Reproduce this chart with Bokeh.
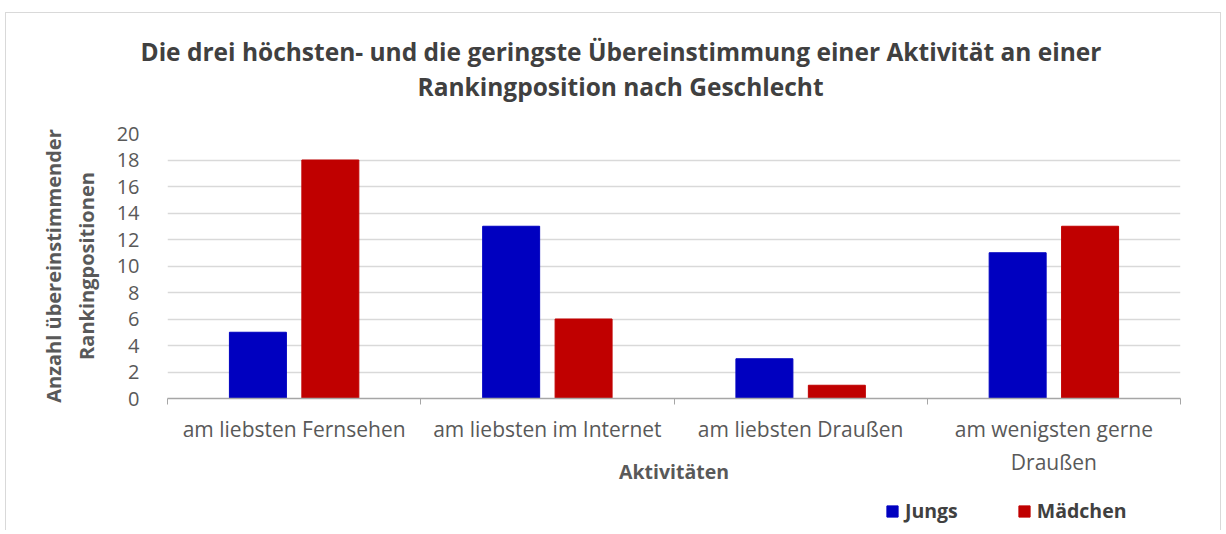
from bokeh.plotting import figure
from bokeh.layouts import column
from bokeh.models import ColumnDataSource, FixedTicker, Legend, LegendItem, Title, Range1d
from bokeh.transform import dodge
from bokeh.embed import file_html
from bokeh.resources import INLINE

categories = ["am liebsten Fernsehen", "am liebsten im Internet", "am liebsten Draußen", "am wenigsten gerne\nDraußen"]
jungs = [5, 13, 3, 11]
maedchen = [18, 6, 1, 13]
y_ticks = [0, 2, 4, 6, 8, 10, 12, 14, 16, 18, 20]
series_names = ["Jungs", "Mädchen"]
series_cols = ["jungs", "maedchen"]
series_colors = ["#0000C0", "#C00000"]

FONT = "Open Sans"
TXT = "#595959"
DARK = "#404040"
GRID = "#d9d9d9"

pos = [i + 0.5 for i in range(len(categories))]
src = ColumnDataSource(dict(x=pos, jungs=jungs, maedchen=maedchen))

p = figure(frame_width=1013, frame_height=265, output_backend="svg", toolbar_location=None,
           x_range=Range1d(0, len(categories)), y_range=Range1d(0, 20),
           min_border_left=167, min_border_right=42, min_border_top=133, min_border_bottom=100)
p.border_fill_color = None
p.outline_line_color = None
line = "linear-gradient(#d9d9d9,#d9d9d9)"
p.styles = {"background": f"{line} 5px 12px/1px 700px no-repeat, {line} 5px 12px/1216px 1px no-repeat, "
                          f"{line} 1220px 12px/1px 700px no-repeat, white"}

r1 = p.vbar(x=dodge("x", -0.143, range=p.x_range), top="jungs", width=0.225, source=src,
            fill_color=series_colors[0], line_color=series_colors[0])
r2 = p.vbar(x=dodge("x", 0.143, range=p.x_range), top="maedchen", width=0.225, source=src,
            fill_color=series_colors[1], line_color=series_colors[1])

# title (two lines)
t2 = Title(text="Rankingposition nach Geschlecht", align="left", offset=250, text_font=FONT,
           text_font_size="24.5px", text_font_style="bold", text_color=DARK, standoff=61)
t1 = Title(text="Die drei höchsten- und die geringste Übereinstimmung einer Aktivität an einer",
           align="left", offset=-27, text_font=FONT, text_font_size="24.5px", text_font_style="bold",
           text_color=DARK, standoff=-60)
p.add_layout(t2, "above")
p.add_layout(t1, "above")

# y axis
p.yaxis.ticker = FixedTicker(ticks=y_ticks)
p.yaxis.axis_line_color = None
p.yaxis.major_tick_line_color = None
p.yaxis.minor_tick_line_color = None
p.yaxis.major_label_text_font = FONT
p.yaxis.major_label_text_font_size = "20px"
p.yaxis.major_label_text_color = TXT
p.yaxis.major_label_standoff = 22
p.yaxis.axis_label = "Anzahl übereinstimmender\nRankingpositionen"
p.yaxis.axis_label_text_font = FONT
p.yaxis.axis_label_text_font_size = "20px"
p.yaxis.axis_label_text_font_style = "bold"
p.yaxis.axis_label_text_color = TXT
p.yaxis.axis_label_standoff = 14

# x axis
p.xaxis.ticker = FixedTicker(ticks=pos, minor_ticks=[0, 1, 2, 3, 4])
p.xaxis.major_label_overrides = {v: c for v, c in zip(pos, categories)}
p.xaxis.major_tick_line_color = None
p.xaxis.minor_tick_line_color = "#a6a6a6"
p.xaxis.minor_tick_in = 0
p.xaxis.minor_tick_out = 6
p.xaxis.axis_line_color = "#a6a6a6"
p.xaxis.axis_line_width = 1.5
p.xaxis.major_label_text_font = FONT
p.xaxis.major_label_text_font_size = "21px"
p.xaxis.major_label_text_color = TXT
p.xaxis.major_label_standoff = 10
p.xaxis.axis_label = "Aktivitäten"
p.xaxis.axis_label_text_font = FONT
p.xaxis.axis_label_text_font_size = "19.5px"
p.xaxis.axis_label_text_font_style = "bold"
p.xaxis.axis_label_text_color = TXT
p.xaxis.axis_label_standoff = -21

p.xgrid.grid_line_color = None
p.ygrid.ticker = FixedTicker(ticks=y_ticks)
p.ygrid.grid_line_color = GRID
p.ygrid.grid_line_width = 1.5

# legend strip below the chart (its y range is far above the data, so only the legend shows)
lg = figure(width=1222, height=32, output_backend="svg", toolbar_location=None,
            x_range=Range1d(0, 1), y_range=Range1d(1000, 1001), min_border=0,
            x_axis_type=None, y_axis_type=None)
lg.grid.visible = False
lg.outline_line_color = None
lg.background_fill_color = None
lg.border_fill_color = None
lg.styles = {"background": f"{line} 5px 0px/1px 100px no-repeat, {line} 1220px 0px/1px 100px no-repeat, white"}
items = []
for name, colname, col in zip(series_names, series_cols, series_colors):
    r = lg.vbar(x="x", top=colname, width=0.1, source=src, fill_color=col, line_color=col)
    items.append(LegendItem(label=name, renderers=[r]))
legend = Legend(items=items, orientation="horizontal", location=(718, 6),
                label_text_font=FONT, label_text_font_size="19.5px", label_text_font_style="bold",
                label_text_color=DARK, glyph_width=14, glyph_height=14, spacing=59,
                border_line_color=None, background_fill_alpha=0, margin=0, padding=2,
                label_standoff=6)
lg.add_layout(legend, "center")

layout = column(p, lg, spacing=0)
open("out.html", "w").write(file_html(layout, INLINE))
